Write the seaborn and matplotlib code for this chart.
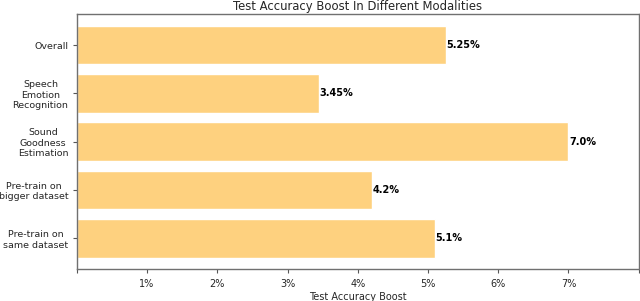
import matplotlib
matplotlib.use("Agg")
import matplotlib.pyplot as plt
import seaborn as sns
import pandas as pd

categories = ["Overall", "Speech\nEmotion\nRecognition", "Sound\nGoodness\nEstimation",
              "Pre-train on\nbigger dataset", "Pre-train on\nsame dataset"]
values = [5.25, 3.45, 7.0, 4.2, 5.1]
value_labels = ["5.25%", "3.45%", "7.0%", "4.2%", "5.1%"]
tick_values = [0, 1, 2, 3, 4, 5, 6, 7, 8]
tick_labels = ["", "1%", "2%", "3%", "4%", "5%", "6%", "7%", ""]

sns.set_style("ticks")
plt.rcParams['font.family'] = ['DejaVu Sans']

df = pd.DataFrame({"cat": categories, "val": values})

fig = plt.figure(figsize=(6.4, 3.01), dpi=100)
ax = fig.add_axes([0.12, 0.106, 0.878, 0.847])
sns.barplot(data=df, x="val", y="cat", orient="h", color="#FED17F",
            saturation=1, width=0.8, ax=ax)

for i, (v, lab) in enumerate(zip(values, value_labels)):
    ax.text(v + 0.01, i, lab, va="center", ha="left", fontsize=7,
            fontweight="bold", color="black")

ax.set_xlim(0, 8)
ax.set_ylim(4.64, -0.64)
ax.set_xticks(tick_values)
ax.set_xticklabels(tick_labels, fontsize=7)
ax.tick_params(axis="y", labelsize=6.8, length=3, width=0.8, color="#555555", pad=3)
ax.tick_params(axis="x", length=3, width=0.8, color="#555555", pad=4)
for t in ax.get_yticklabels():
    t.set_multialignment("center")
ax.set_xlabel("Test Accuracy Boost", fontsize=7, labelpad=2)
ax.set_ylabel("")
ax.set_title("Test Accuracy Boost In Different Modalities", fontsize=8.4, pad=3)
for s in ax.spines.values():
    s.set_color("#707070")
    s.set_linewidth(1.0)
    s.set_visible(True)

fig.savefig("out.png", dpi=100)
